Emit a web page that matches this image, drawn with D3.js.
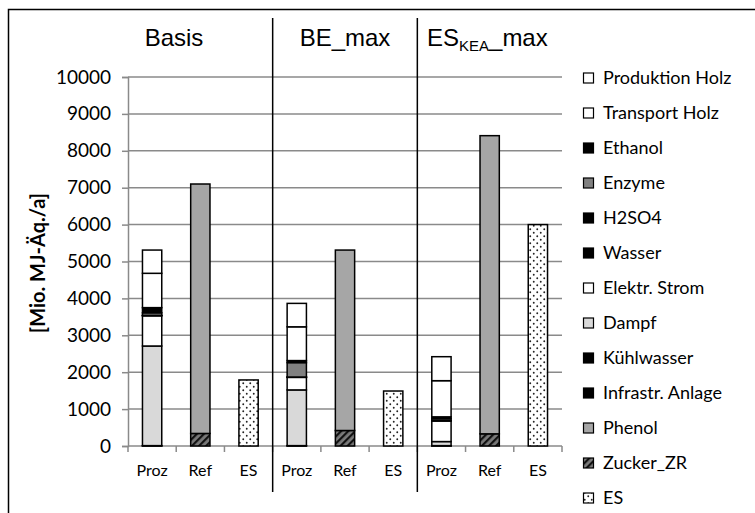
<!DOCTYPE html>
<html>
<head>
<meta charset="utf-8">
<script src="https://cdn.jsdelivr.net/npm/d3@7"></script>
<style>
  html, body { margin: 0; padding: 0; background: #fff; }
  svg { display: block; }
</style>
</head>
<body>
<script>
// Bars (three per scenario) and scenario names
const bars = ["Basis|Proz", "Basis|Ref", "Basis|ES", "BE|Proz", "BE|Ref", "BE|ES", "KEA|Proz", "KEA|Ref", "KEA|ES"];
const barLabels = ["Proz", "Ref", "ES", "Proz", "Ref", "ES", "Proz", "Ref", "ES"];
const yTicks = [0, 1000, 2000, 3000, 4000, 5000, 6000, 7000, 8000, 9000, 10000];

// Series values in Mio. MJ-Äq./a, one entry per bar (stacked from ES upwards)
const es          = [0, 0, 1790, 0, 0, 1490, 0, 0, 6000];
const zuckerZR    = [0, 340, 0, 0, 420, 0, 0, 330, 0];
const phenol      = [0, 6760, 0, 0, 4890, 0, 0, 8080, 0];
const infrastr    = [5, 0, 0, 5, 0, 0, 5, 0, 0];
const kuehlwasser = [5, 0, 0, 5, 0, 0, 5, 0, 0];
const dampf       = [2700, 0, 0, 1510, 0, 0, 110, 0, 0];
const strom       = [820, 0, 0, 340, 0, 0, 560, 0, 0];
const wasser      = [5, 0, 0, 5, 0, 0, 5, 0, 0];
const h2so4       = [5, 0, 0, 5, 0, 0, 5, 0, 0];
const enzyme      = [70, 0, 0, 390, 0, 0, 50, 0, 0];
const ethanol     = [140, 0, 0, 55, 0, 0, 50, 0, 0];
const transport   = [930, 0, 0, 915, 0, 0, 980, 0, 0];
const produktion  = [630, 0, 0, 635, 0, 0, 650, 0, 0];

// Stack order bottom -> top
const seriesNames = ["ES", "Zucker_ZR", "Phenol", "Infrastr. Anlage", "Kühlwasser", "Dampf",
  "Elektr. Strom", "Wasser", "H2SO4", "Enzyme", "Ethanol", "Transport Holz", "Produktion Holz"];
const seriesValues = [es, zuckerZR, phenol, infrastr, kuehlwasser, dampf,
  strom, wasser, h2so4, enzyme, ethanol, transport, produktion];
const seriesFill = ["url(#dots)", "url(#hatch)", "#a6a6a6", "#000", "#000", "#d9d9d9",
  "#fff", "#000", "#000", "#808080", "#000", "#fff", "#fff"];

const W = 755, H = 513;
const svg = d3.select("body").append("svg").attr("width", W).attr("height", H);
const FONT = "Lato, 'Open Sans', sans-serif";

// patterns
const defs = svg.append("defs");
const hatch = defs.append("pattern").attr("id", "hatch").attr("patternUnits", "userSpaceOnUse")
  .attr("width", 5).attr("height", 5).attr("patternTransform", "rotate(45)");
hatch.append("rect").attr("width", 5).attr("height", 5).attr("fill", "#7a7a7a");
hatch.append("rect").attr("width", 2.2).attr("height", 5).attr("fill", "#111");
const dots = defs.append("pattern").attr("id", "dots").attr("patternUnits", "userSpaceOnUse")
  .attr("width", 7).attr("height", 7);
dots.append("rect").attr("width", 7).attr("height", 7).attr("fill", "#fff");
dots.append("circle").attr("cx", 1.75).attr("cy", 1.75).attr("r", 0.95).attr("fill", "#222");
dots.append("circle").attr("cx", 5.25).attr("cy", 5.25).attr("r", 0.95).attr("fill", "#222");

// outer frame
svg.append("rect").attr("x", 8.5).attr("y", 9.5).attr("width", 800).attr("height", 600)
  .attr("fill", "none").attr("stroke", "#000").attr("stroke-width", 1.5);

const x = d3.scaleBand().domain(bars).range([128, 562]).paddingInner(0.6).paddingOuter(0.3);
const y = d3.scaleLinear().domain([0, 10000]).range([446, 77]);

// gridlines
svg.append("g").selectAll("line").data(yTicks.filter(d => d > 0)).join("line")
  .attr("x1", 128).attr("x2", 562).attr("y1", d => y(d)).attr("y2", d => y(d))
  .attr("stroke", "#8a8a8a").attr("stroke-width", 1.5);

// y axis
const yAxis = svg.append("g").attr("transform", "translate(128,0)")
  .call(d3.axisLeft(y).tickValues(yTicks).tickSize(6).tickPadding(11).tickFormat(d3.format("d")));
yAxis.select(".domain").attr("stroke", "#8a8a8a").attr("stroke-width", 1.5);
yAxis.selectAll(".tick line").attr("stroke", "#8a8a8a").attr("stroke-width", 1.5);
yAxis.selectAll(".tick text").attr("font-family", FONT).attr("font-size", 19).attr("fill", "#000");

// x axis with ticks at category boundaries
svg.append("line").attr("x1", 128).attr("x2", 562).attr("y1", y(0)).attr("y2", y(0))
  .attr("stroke", "#8a8a8a").attr("stroke-width", 1.5);
const bounds = d3.range(bars.length + 1).map(i => 128 + i * x.step());
svg.append("g").selectAll("line").data(bounds).join("line")
  .attr("x1", d => d).attr("x2", d => d).attr("y1", y(0)).attr("y2", y(0) + 6)
  .attr("stroke", "#8a8a8a").attr("stroke-width", 1.5);
svg.append("g").selectAll("text").data(bars).join("text")
  .attr("x", d => x(d) + x.bandwidth() / 2).attr("y", 476)
  .attr("text-anchor", "middle").attr("font-family", FONT).attr("font-size", 16)
  .text((d, i) => barLabels[i]);

// stacked bars
const rows = bars.map((b, i) => {
  const r = { bar: b };
  seriesNames.forEach((s, k) => r[s] = seriesValues[k][i]);
  return r;
});
const stacked = d3.stack().keys(seriesNames)(rows);
svg.append("g").selectAll("g").data(stacked).join("g")
  .attr("fill", (d, k) => seriesFill[k])
  .selectAll("rect").data(d => d.filter(p => p[1] - p[0] > 0)).join("rect")
  .attr("x", p => x(p.data.bar)).attr("width", x.bandwidth())
  .attr("y", p => y(p[1])).attr("height", p => y(p[0]) - y(p[1]))
  .attr("stroke", "#000").attr("stroke-width", 1.5);

// scenario separators
svg.append("g").selectAll("line").data([bounds[3], bounds[6]]).join("line")
  .attr("x1", d => d).attr("x2", d => d).attr("y1", 18).attr("y2", 492)
  .attr("stroke", "#000").attr("stroke-width", 1.5);

// scenario titles
const tf = "'Liberation Sans', Arial, sans-serif";
svg.append("text").attr("x", 174).attr("y", 46).attr("text-anchor", "middle")
  .attr("font-family", tf).attr("font-size", 24).text("Basis");
svg.append("text").attr("x", 345).attr("y", 46).attr("text-anchor", "middle")
  .attr("font-family", tf).attr("font-size", 24).text("BE_max");
const t3 = svg.append("text").attr("x", 427).attr("y", 46)
  .attr("font-family", tf).attr("font-size", 24);
t3.append("tspan").text("ES");
t3.append("tspan").attr("font-size", 15).attr("dy", 5).text("KEA");
t3.append("tspan").attr("dy", -5).text("_max");

// y axis title
svg.append("text").attr("transform", "translate(45,263) rotate(-90)")
  .attr("text-anchor", "middle").attr("font-family", FONT).attr("font-weight", "bold")
  .attr("font-size", 20).text("[Mio. MJ-Äq./a]");

// legend, listed top -> bottom in reverse stack order
const legendIdx = d3.range(seriesNames.length).reverse();
const lg = svg.append("g").selectAll("g").data(legendIdx).join("g")
  .attr("transform", (k, i) => `translate(583,${78 + i * 35})`);
lg.append("rect").attr("x", 0.5).attr("y", -5).attr("width", 10).attr("height", 10)
  .attr("fill", k => seriesFill[k]).attr("stroke", "#000").attr("stroke-width", 1.2);
lg.append("text").attr("x", 20).attr("y", 0).attr("dy", "0.35em")
  .attr("font-family", FONT).attr("font-size", 18).text(k => seriesNames[k]);
</script>
</body>
</html>
